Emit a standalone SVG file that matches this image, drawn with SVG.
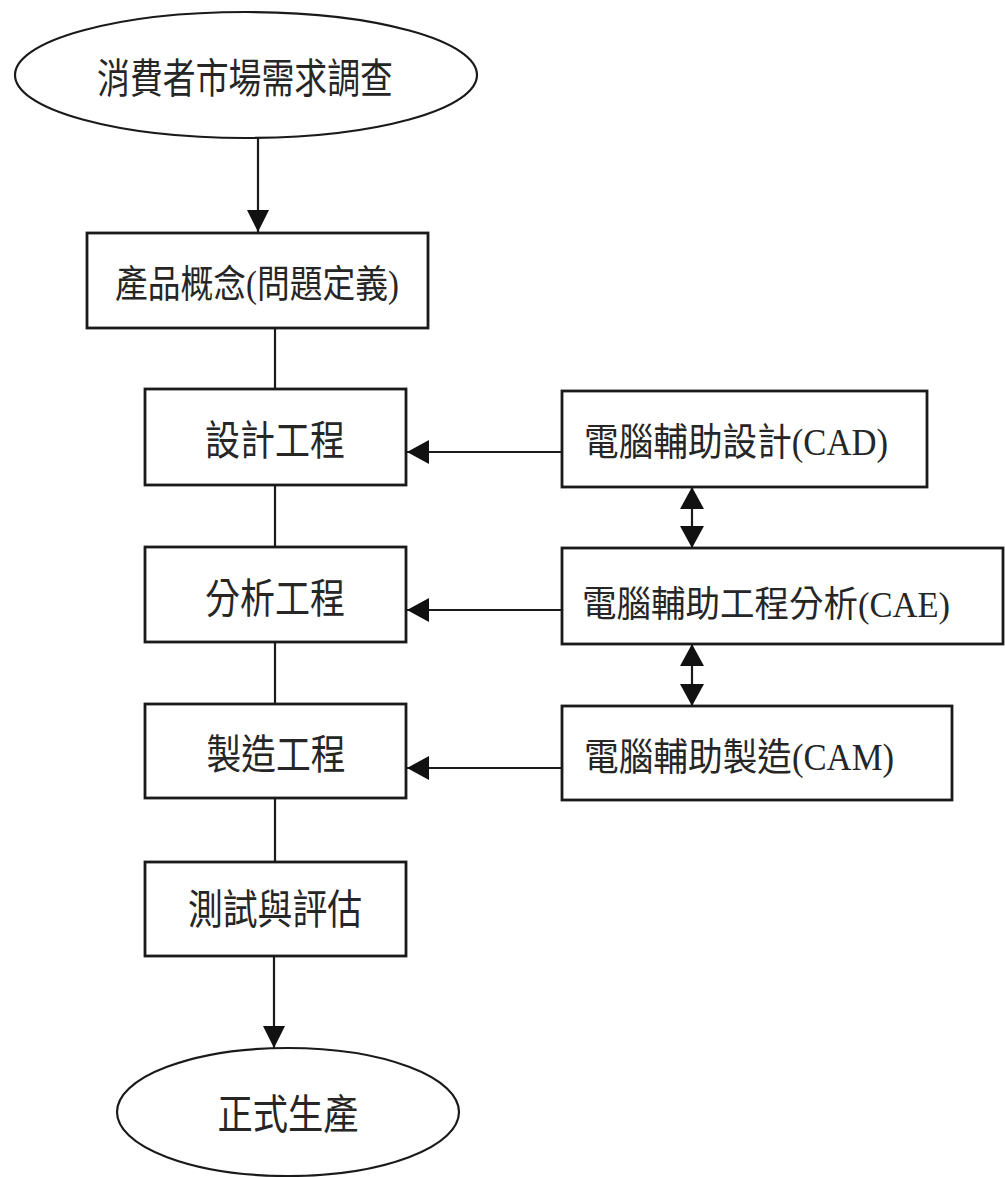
<svg xmlns="http://www.w3.org/2000/svg" width="1005" height="1177" viewBox="0 0 1005 1177">
<defs>
<style>
.node{fill:#fff;stroke:#1a1a1a;stroke-width:2.8}
.ell{fill:#fff;stroke:#1a1a1a;stroke-width:2.2}
.lbl{font-family:"Liberation Serif","Noto Sans CJK TC",serif;font-size:41px;fill:#262626;text-anchor:middle}
.sm{font-size:38px}
.xs{font-size:36px}
.edge{fill:none;stroke:#1a1a1a;stroke-width:2.2}
</style>
<marker id="ah" viewBox="0 0 22 24" refX="22" refY="12" markerWidth="22" markerHeight="24" markerUnits="userSpaceOnUse" orient="auto-start-reverse">
<path d="M0,0 L22,12 L0,24 Z" fill="#111"/>
</marker>
<marker id="ahs" viewBox="0 0 22 22" refX="22" refY="11" markerWidth="22" markerHeight="22" markerUnits="userSpaceOnUse" orient="auto-start-reverse">
<path d="M0,0 L22,11 L0,22 Z" fill="#111"/>
</marker>
</defs>
<rect width="1005" height="1177" fill="#fff"/>
<g id="connectors">
<line class="edge" x1="258" y1="138" x2="258" y2="232" marker-end="url(#ahs)"/>
<line class="edge" x1="275" y1="328" x2="275" y2="389"/>
<line class="edge" x1="275" y1="485" x2="275" y2="547"/>
<line class="edge" x1="275" y1="642" x2="275" y2="704"/>
<line class="edge" x1="275" y1="798" x2="275" y2="862"/>
<line class="edge" x1="274" y1="956" x2="274" y2="1048" marker-end="url(#ahs)"/>
<line class="edge" x1="562" y1="452" x2="407" y2="452" marker-end="url(#ah)"/>
<line class="edge" x1="562" y1="610" x2="407" y2="610" marker-end="url(#ah)"/>
<line class="edge" x1="562" y1="768" x2="407" y2="768" marker-end="url(#ah)"/>
<line class="edge" x1="692" y1="487" x2="692" y2="548" marker-start="url(#ah)" marker-end="url(#ah)"/>
<line class="edge" x1="692" y1="644" x2="692" y2="706" marker-start="url(#ah)" marker-end="url(#ah)"/>
</g>
<g id="n_survey">
<ellipse class="ell" cx="246" cy="75" rx="231" ry="63"/>
<text class="lbl" x="245" y="93" textLength="296" lengthAdjust="spacingAndGlyphs">消費者市場需求調查</text>
</g>
<g id="n_concept">
<rect class="node" x="87" y="233" width="341" height="95"/>
<text class="lbl sm" x="257" y="297" textLength="284" lengthAdjust="spacingAndGlyphs">產品概念(問題定義)</text>
</g>
<g id="n_design">
<rect class="node" x="145" y="389" width="261" height="96"/>
<text class="lbl" x="275" y="455" textLength="140" lengthAdjust="spacingAndGlyphs">設計工程</text>
</g>
<g id="n_analysis">
<rect class="node" x="145" y="547" width="261" height="95"/>
<text class="lbl" x="275" y="613" textLength="140" lengthAdjust="spacingAndGlyphs">分析工程</text>
</g>
<g id="n_manufacture">
<rect class="node" x="145" y="704" width="261" height="94"/>
<text class="lbl" x="276" y="769" textLength="139" lengthAdjust="spacingAndGlyphs">製造工程</text>
</g>
<g id="n_test">
<rect class="node" x="145" y="862" width="261" height="94"/>
<text class="lbl" x="275" y="924" textLength="174" lengthAdjust="spacingAndGlyphs">測試與評估</text>
</g>
<g id="n_production">
<ellipse class="ell" cx="288" cy="1112" rx="171" ry="64"/>
<text class="lbl" x="288" y="1129" textLength="141" lengthAdjust="spacingAndGlyphs">正式生產</text>
</g>
<g id="n_cad">
<rect class="node" x="562" y="391" width="365" height="96"/>
<text class="lbl sm" x="736" y="455" textLength="304" lengthAdjust="spacingAndGlyphs">電腦輔助設計(CAD)</text>
</g>
<g id="n_cae">
<rect class="node" x="562" y="548" width="441" height="96"/>
<text class="lbl xs" x="766" y="617" textLength="368" lengthAdjust="spacingAndGlyphs">電腦輔助工程分析(CAE)</text>
</g>
<g id="n_cam">
<rect class="node" x="562" y="706" width="390" height="94"/>
<text class="lbl sm" x="739" y="770" textLength="310" lengthAdjust="spacingAndGlyphs">電腦輔助製造(CAM)</text>
</g>
</svg>
